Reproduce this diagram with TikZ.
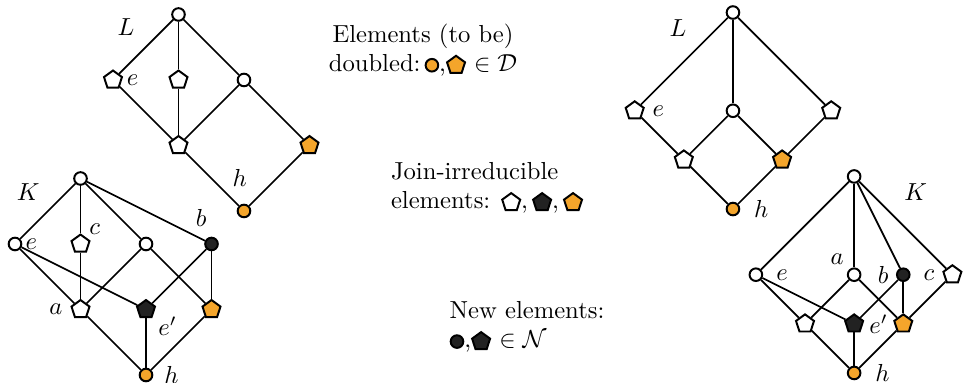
\documentclass[tikz,border=0pt]{standalone}
\usepackage{tikz}
\usetikzlibrary{shapes}
\definecolor{dblcol}{HTML}{F4A52B}
\definecolor{newcol}{HTML}{222222}
% small markers used inside the captions
\newcommand{\vcirc}[1]{\tikz[baseline=-0.6ex]\node[circle,draw,thick,fill=#1,inner sep=0pt,minimum size=0.18cm]{};}
\newcommand{\vpent}[1]{\tikz[baseline=-0.6ex]\node[regular polygon,regular polygon sides=5,draw,thick,fill=#1,inner sep=0pt,minimum size=0.27cm]{};}

\begin{document}
\begin{tikzpicture}
      [x=0.935cm, y=0.935cm, line width=0.7pt,
      elem/.style={circle, draw, thick, fill=white, inner sep=0pt, minimum size=0.18cm},
      irr/.style={regular polygon, regular polygon sides=5, draw, thick, fill=white,
        inner sep=0pt, minimum size=0.27cm},
      dbl/.style={fill=dblcol},
      nov/.style={fill=newcol},
      every label/.style={inner sep=1pt}]
      \useasboundingbox (0,0) rectangle (14.763,5.847);
      % Captions
      \node [align=center] (dtxt) at (6.458,5.084) {Elements (to be)\\doubled:\,\vcirc{dblcol},\vpent{dblcol} $\in\mathcal{D}$};
      \node [align=left] (jtxt) at (7.435,2.977) {Join-irreducible\\elements: \vpent{white},\,\vpent{newcol},\,\vpent{dblcol}};
      \node [align=left] (ntxt) at (8.046,0.855) {New elements:\\\vcirc{newcol},\vpent{newcol} $\in\mathcal{N}$};
      % Place nodes: L (left)
      \begin{scope}[shift={(3.725,2.626)}]
        \node (l1name) at (-1.8,2.8) {$L$};
        \node [elem, dbl, label={[label distance=2mm, xshift=-0.6mm]above:$h$}] (l1h) at (0,0) {};
        \node [irr] (l1p) at (-1,1) {};
        \node [irr, dbl] (l1q) at (1,1) {};
        \node [irr, label={[label distance=0.2mm]right:$e$}] (l1e) at (-2,2) {};
        \node [irr] (l1m) at (-1,2) {};
        \node [elem] (l1r) at (0,2) {};
        \node [elem] (l1t) at (-1,3) {};
      \end{scope}
      % Place nodes: K (left)
      \begin{scope}[shift={(2.229,0.122)}]
        \node (k1name) at (-1.8,2.8) {$K$};
        \node [elem, dbl, label={[label distance=1.1mm]right:$h$}] (k1h) at (0,0) {};
        \node [irr, label={[label distance=0.8mm]left:$a$}] (k1a) at (-1,1) {};
        \node [irr, nov, label={[label distance=0.2mm]-25:$e'$}] (k1f) at (0,1) {};
        \node [irr, dbl] (k1q) at (1,1) {};
        \node [elem, label=right:$e$] (k1e) at (-2,2) {};
        \node [irr, label={[label distance=0mm]50:$c$}] (k1c) at (-1,2) {};
        \node [elem] (k1x) at (0,2) {};
        \node [elem, nov, label={[label distance=1mm]97:$b$}] (k1b) at (1,2) {};
        \node [elem] (k1t) at (-1,3) {};
      \end{scope}
      % Place nodes: L (right)
      \begin{scope}[shift={(11.19,2.656)}]
        \node (l2name) at (-0.84,2.76) {$L$};
        \node [elem, dbl, label={[label distance=1.5mm]right:$h$}] (l2h) at (0,0) {};
        \node [irr] (l2p) at (-0.75,0.75) {};
        \node [irr, dbl] (l2q) at (0.75,0.75) {};
        \node [irr, label={[label distance=0.8mm]right:$e$}] (l2e) at (-1.5,1.5) {};
        \node [elem] (l2m) at (0,1.5) {};
        \node [irr] (l2r) at (1.5,1.5) {};
        \node [elem] (l2t) at (0,3) {};
      \end{scope}
      % Place nodes: K (right)
      \begin{scope}[shift={(13.04,0.153)}]
        \node (k2name) at (0.94,2.76) {$K$};
        \node [elem, dbl, label={[label distance=1.5mm]right:$h$}] (k2h) at (0,0) {};
        \node [irr] (k2p) at (-0.75,0.75) {};
        \node [irr, nov, label={[label distance=0.4mm]right:$e'$}] (k2f) at (0,0.75) {};
        \node [irr, dbl] (k2q) at (0.75,0.75) {};
        \node [elem, label={[label distance=1.4mm]right:$e$}] (k2e) at (-1.5,1.5) {};
        \node [elem, label={[label distance=0.4mm]135:$a$}] (k2a) at (0,1.5) {};
        \node [elem, nov, label={[label distance=0.6mm]left:$b$}] (k2b) at (0.75,1.5) {};
        \node [irr, label={[label distance=0.8mm]left:$c$}] (k2c) at (1.5,1.5) {};
        \node [elem] (k2t) at (0,3) {};
      \end{scope}
      % Draw edges
      \draw (l1t) -- (l1e);  \draw (l1t) -- (l1m);  \draw (l1t) -- (l1r);
      \draw (l1e) -- (l1p);  \draw (l1m) -- (l1p);  \draw (l1r) -- (l1p);
      \draw (l1r) -- (l1q);  \draw (l1p) -- (l1h);  \draw (l1q) -- (l1h);
      \draw (k1t) -- (k1e);  \draw (k1t) -- (k1c);  \draw (k1t) -- (k1x);
      \draw (k1t) -- (k1b);  \draw (k1e) -- (k1a);  \draw (k1e) -- (k1f);
      \draw (k1c) -- (k1a);  \draw (k1x) -- (k1a);  \draw (k1x) -- (k1q);
      \draw (k1b) -- (k1f);  \draw (k1b) -- (k1q);  \draw (k1a) -- (k1h);
      \draw (k1f) -- (k1h);  \draw (k1q) -- (k1h);
      \draw (l2t) -- (l2e);  \draw (l2t) -- (l2m);  \draw (l2t) -- (l2r);
      \draw (l2e) -- (l2p);  \draw (l2m) -- (l2p);  \draw (l2m) -- (l2q);
      \draw (l2r) -- (l2q);  \draw (l2p) -- (l2h);  \draw (l2q) -- (l2h);
      \draw (k2t) -- (k2e);  \draw (k2t) -- (k2a);  \draw (k2t) -- (k2b);
      \draw (k2t) -- (k2c);  \draw (k2e) -- (k2p);  \draw (k2e) -- (k2f);
      \draw (k2a) -- (k2p);  \draw (k2a) -- (k2q);  \draw (k2b) -- (k2f);
      \draw (k2b) -- (k2q);  \draw (k2c) -- (k2q);  \draw (k2p) -- (k2h);
      \draw (k2f) -- (k2h);  \draw (k2q) -- (k2h);
\end{tikzpicture}
\end{document}
